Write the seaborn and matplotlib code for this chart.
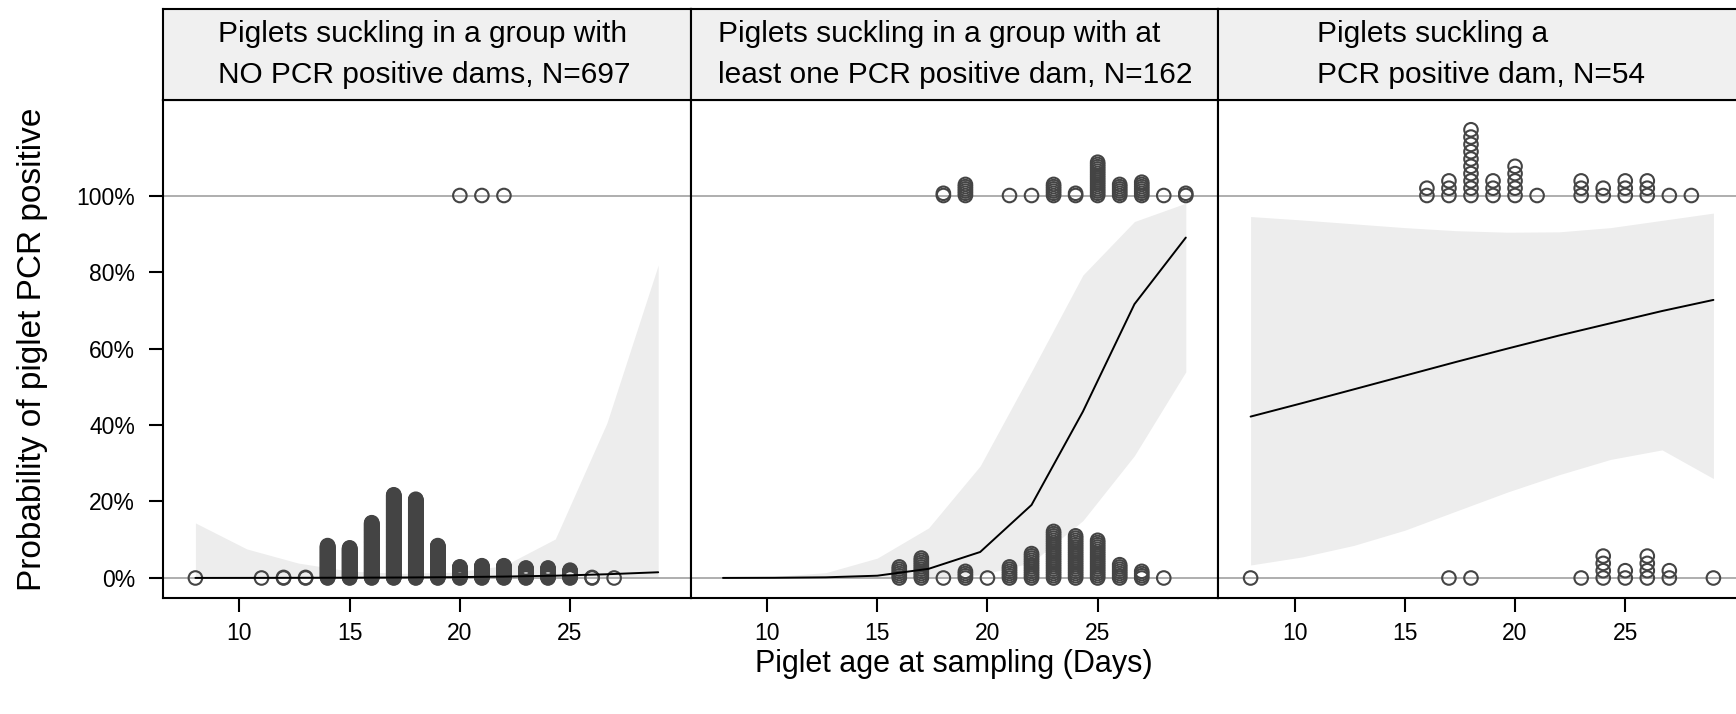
import numpy as np
import pandas as pd
import matplotlib
matplotlib.use("Agg")
import matplotlib.pyplot as plt
import seaborn as sns

# ---------------- data ----------------
panel_titles = [
    "Piglets suckling in a group with\nNO PCR positive dams, N=697",
    "Piglets suckling in a group with at\nleast one PCR positive dam, N=162",
    "Piglets suckling a\nPCR positive dam, N=54",
]
panel_n = [697, 162, 54]

fit_age = [8, 10.33, 12.67, 15, 17.33, 19.67, 22, 24.33, 26.67, 29]

fit_p1 = [0.0002, 0.0003, 0.0005, 0.0008, 0.0013, 0.0022, 0.0037, 0.006, 0.0098, 0.015]
lo_p1 = [0.0, 0.0, 0.0, 0.0001, 0.0003, 0.0005, 0.0008, 0.0012, 0.0015, 0.0018]
hi_p1 = [0.144, 0.076, 0.039, 0.018, 0.012, 0.015, 0.032, 0.102, 0.405, 0.818]

fit_p2 = [0.0002, 0.0006, 0.0018, 0.006, 0.024, 0.068, 0.191, 0.435, 0.716, 0.89]
lo_p2 = [0.0, 0.0, 0.0001, 0.0005, 0.002, 0.008, 0.04, 0.15, 0.32, 0.539]
hi_p2 = [0.001, 0.004, 0.014, 0.052, 0.131, 0.293, 0.54, 0.792, 0.932, 0.98]

fit_p3 = [0.422, 0.457, 0.493, 0.529, 0.565, 0.600, 0.634, 0.666, 0.698, 0.727]
lo_p3 = [0.034, 0.055, 0.085, 0.125, 0.175, 0.225, 0.27, 0.31, 0.335, 0.26]
hi_p3 = [0.945, 0.936, 0.926, 0.916, 0.908, 0.904, 0.905, 0.916, 0.935, 0.954]

# observed piglets (age in days) per panel: PCR negative (0) and PCR positive (1)
neg_days1 = [8, 11, 12, 13, 14, 15, 16, 17, 18, 19, 20, 21, 22, 23, 24, 25, 26, 27]
neg_counts1 = [1, 1, 2, 2, 59, 55, 100, 150, 142, 59, 21, 23, 23, 19, 19, 15, 2, 1]
pos_days1 = [20, 21, 22]
pos_counts1 = [1, 1, 1]

neg_days2 = [16, 17, 18, 19, 20, 21, 22, 23, 24, 25, 26, 27, 28]
neg_counts2 = [6, 10, 1, 4, 1, 6, 12, 22, 20, 18, 7, 4, 1]
pos_days2 = [18, 19, 21, 22, 23, 24, 25, 26, 27, 28, 29]
pos_counts2 = [2, 6, 1, 1, 6, 2, 16, 6, 7, 1, 2]

neg_days3 = [8, 17, 18, 23, 24, 25, 26, 27, 29]
neg_counts3 = [1, 1, 1, 1, 4, 2, 4, 2, 1]
pos_days3 = [16, 17, 18, 19, 20, 21, 23, 24, 25, 26, 27, 28]
pos_counts3 = [2, 3, 10, 3, 5, 1, 3, 2, 3, 3, 1, 1]

x_ticks = [10, 15, 20, 25]
y_ticks = [0, 0.2, 0.4, 0.6, 0.8, 1.0]
y_tick_labels = ["0%", "20%", "40%", "60%", "80%", "100%"]
x_label = "Piglet age at sampling (Days)"
y_label = "Probability of piglet PCR positive"

# ---------------- style ----------------
sns.set_theme(style="ticks")
plt.rcParams["font.family"] = ["Liberation Sans", "DejaVu Sans"]

W, H = 1736, 714
fig = plt.figure(figsize=(W / 100, H / 100), dpi=100)
fig.patch.set_facecolor("white")

panel_left_px = [163, 690.6, 1218.2]
panel_w_px = 527.6
panel_top_px, panel_bot_px = 100, 598
strip_top_px = 9
stack_step = [0.00146, 0.0058, 0.0191]
title_x = [0.104, 0.051, 0.188]

fits = [(fit_p1, lo_p1, hi_p1), (fit_p2, lo_p2, hi_p2), (fit_p3, lo_p3, hi_p3)]
obs = [(neg_days1, neg_counts1, pos_days1, pos_counts1),
       (neg_days2, neg_counts2, pos_days2, pos_counts2),
       (neg_days3, neg_counts3, pos_days3, pos_counts3)]


def stacked(days, counts, base, step):
    xs, ys = [], []
    for d, c in zip(days, counts):
        for i in range(c):
            xs.append(d)
            ys.append(base + i * step)
    return xs, ys


point_col = "#444444"
for k in range(3):
    l = panel_left_px[k] / W
    b = (H - panel_bot_px) / H
    w = panel_w_px / W
    h = (panel_bot_px - panel_top_px) / H
    ax = fig.add_axes([l, b, w, h])
    ax.set_facecolor("white")
    fit, lo, hi = fits[k]
    ax.fill_between(fit_age, lo, hi, color="#EDEDED", lw=0, zorder=1)
    ax.axhline(0, color="#A8A8A8", lw=1.3, zorder=1.5)
    ax.axhline(1, color="#A8A8A8", lw=1.3, zorder=1.5)

    nd, nc, pd_, pc = obs[k]
    x0, y0 = stacked(nd, nc, 0.0, stack_step[k])
    x1, y1 = stacked(pd_, pc, 1.0, stack_step[k])
    df = pd.DataFrame({"age": x0 + x1, "p": y0 + y1})
    sns.scatterplot(data=df, x="age", y="p", ax=ax, marker="o", s=95,
                    facecolor="none", edgecolor=point_col, linewidth=1.5,
                    zorder=2, legend=False)
    ax.collections[-1].set_facecolor("none")
    ax.collections[-1].set_edgecolor(point_col)

    sns.lineplot(x=fit_age, y=fit, ax=ax, color="black", lw=1.4, zorder=3)

    ax.set_xlim(6.53, 30.47)
    ax.set_ylim(-0.0523, 1.2497)
    ax.set_xticks(x_ticks)
    ax.set_xticklabels([str(t) for t in x_ticks])
    if k == 0:
        ax.set_yticks(y_ticks)
        ax.set_yticklabels(y_tick_labels)
    else:
        ax.set_yticks([])
    ax.set_xlabel("")
    ax.set_ylabel("")
    ax.tick_params(axis="both", direction="out", length=10, width=1.5,
                   labelsize=16.5, colors="black", pad=7)
    ax.tick_params(axis="y", pad=10)
    for sp in ax.spines.values():
        sp.set_visible(True)
        sp.set_color("black")
        sp.set_linewidth(1.5)

    # strip
    sb = (H - panel_top_px) / H
    sh = (panel_top_px - strip_top_px) / H
    sax = fig.add_axes([l, sb, w, sh])
    sax.set_facecolor("#F0F0F0")
    sax.set_xticks([])
    sax.set_yticks([])
    for sp in sax.spines.values():
        sp.set_color("black")
        sp.set_linewidth(1.5)
    sax.text(title_x[k], 0.5, panel_titles[k], transform=sax.transAxes,
             ha="left", va="center", multialignment="left",
             fontsize=21.5, linespacing=1.6, color="black")

fig.text(33 / W, (H - 349) / H, y_label, rotation=90, ha="center",
         va="center", fontsize=24, color="black")
fig.text(954 / W, (H - 664) / H, x_label, ha="center", va="center",
         fontsize=22, color="black")

fig.savefig("out.png", dpi=100)
